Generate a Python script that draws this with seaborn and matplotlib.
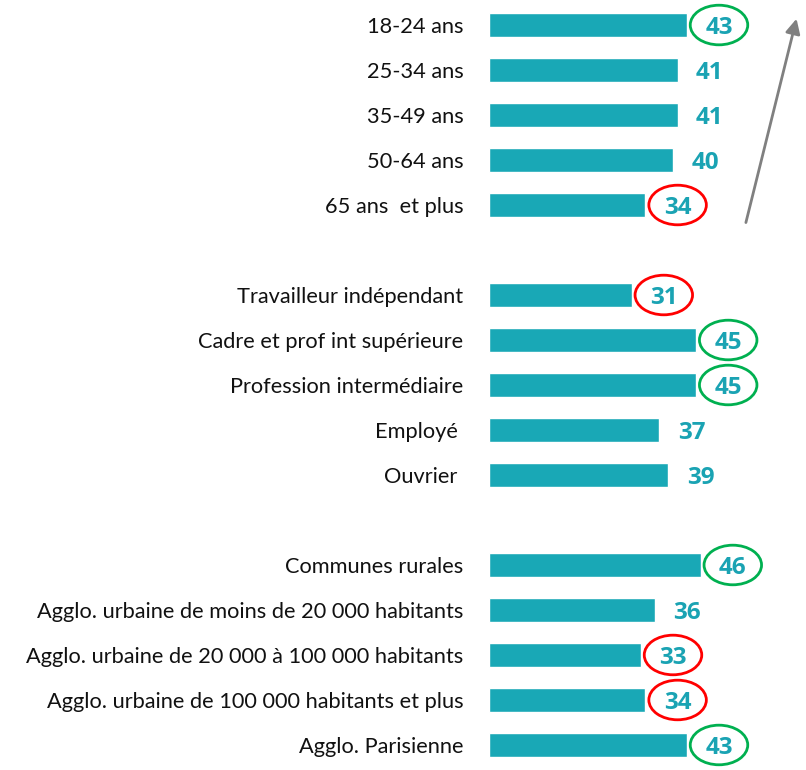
import numpy as np
import pandas as pd
import matplotlib
matplotlib.use("Agg")
import matplotlib.pyplot as plt
from matplotlib.patches import Ellipse
import seaborn as sns

# ── Data ────────────────────────────────────────────────────────
labels = [
    "18-24 ans", "25-34 ans", "35-49 ans", "50-64 ans", "65 ans  et plus",
    "Travailleur indépendant", "Cadre et prof int supérieure",
    "Profession intermédiaire", "Employé ", "Ouvrier ",
    "Communes rurales", "Agglo. urbaine de moins de 20 000 habitants",
    "Agglo. urbaine de 20 000 à 100 000 habitants",
    "Agglo. urbaine de 100 000 habitants et plus", "Agglo. Parisienne",
]
values = [43, 41, 41, 40, 34, 31, 45, 45, 37, 39, 46, 36, 33, 34, 43]
highlight = ["green", None, None, None, "red",
             "red", "green", "green", None, None,
             "green", None, "red", "red", "green"]
group_sizes = [5, 5, 5]

# row positions with one empty row between groups
positions = []
row = 0
for g in group_sizes:
    positions += list(range(row, row + g))
    row += g + 1

df = pd.DataFrame({"label": labels, "value": values, "pos": positions})

BAR = "#19A8B6"
NUM = "#1AA3B3"
RING = {"green": "#00B050", "red": "#FF0000"}

sns.set_style("white")
plt.rcParams["font.family"] = ["Lato", "DejaVu Sans"]

fig = plt.figure(figsize=(8.06, 7.7), dpi=100)
ax = fig.add_axes([489 / 806, 0, 1 - 489 / 806, 1])

sns.barplot(data=df, x="value", y="pos", orient="h", native_scale=True,
            color=BAR, width=0.53, saturation=1, ax=ax)

ax.set_xlim(0, (806 - 489) / 4.6)
ax.set_ylim(16.556, -0.556)

ax.set_yticks(df["pos"], df["label"], fontsize=15.7, color="#111111")
ax.tick_params(axis="y", length=0, pad=18.5)
ax.set_xticks([])
ax.set_xlabel("")
ax.set_ylabel("")
sns.despine(ax=ax, left=True, bottom=True)

# value labels + rings
offset = 7.0
for v, p, h in zip(df["value"], df["pos"], highlight):
    cx = v + offset
    ax.text(cx, p, str(v), ha="center", va="center_baseline",
            fontsize=17.5, fontweight="bold", color=NUM,
            family=["Open Sans", "DejaVu Sans"])
    if h:
        ax.add_patch(Ellipse((cx, p), width=12.5, height=0.88, fill=False,
                             edgecolor=RING[h], lw=2, clip_on=False))

# trend arrow
ax.annotate("", xy=(67.0, -0.2), xytext=(55.7, 4.45),
            arrowprops=dict(arrowstyle="-|>", color="#808080", lw=2,
                            mutation_scale=22),
            annotation_clip=False)

fig.savefig("out.png", dpi=100)
